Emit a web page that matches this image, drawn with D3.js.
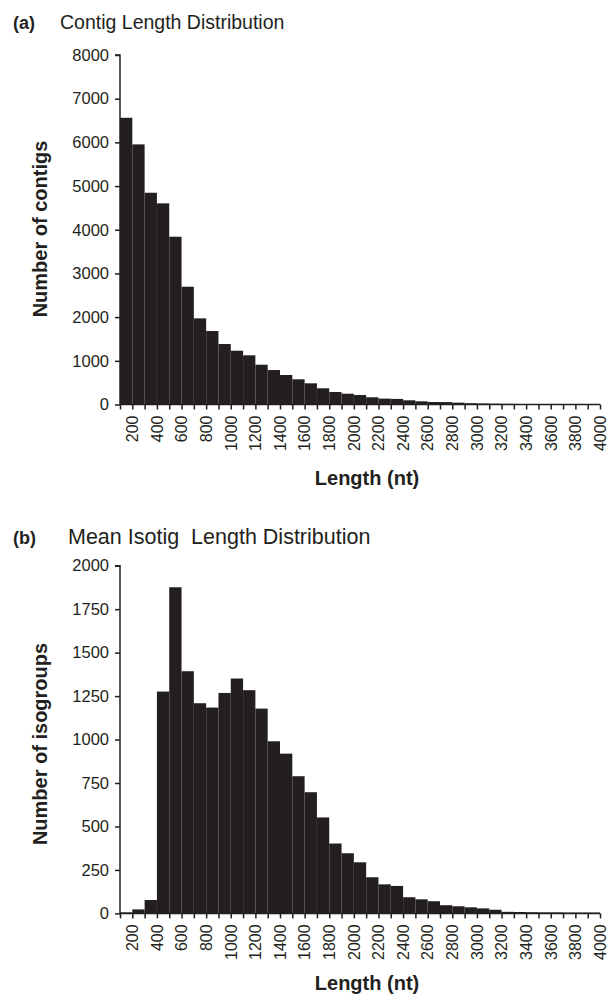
<!DOCTYPE html>
<html><head><meta charset="utf-8">
<script src="https://cdn.jsdelivr.net/npm/d3@7"></script>
<style>
body{margin:0;background:#fff;}
text{font-family:"Liberation Sans",Arial,sans-serif;fill:#231f20;}
</style></head>
<body><svg id="c" width="611" height="996"></svg>
<script>
// Bin lower edges (nt), bins of width 100
const binStarts = d3.range(100, 4000, 100);
// Panel (a): number of contigs per bin
const contigCounts = [6563, 5954, 4847, 4604, 3840, 2696, 1972, 1682, 1384, 1231, 1126, 911, 789, 675, 577, 485, 371, 286, 247, 217, 165, 135, 128, 96, 73, 57, 55, 42, 30, 24, 19, 15, 12, 10, 8, 7, 6, 5, 4];
// Panel (b): number of isogroups per bin
const isogroupCounts = [6, 23, 77, 1276, 1876, 1393, 1209, 1184, 1268, 1351, 1284, 1178, 990, 919, 789, 697, 552, 402, 346, 294, 208, 167, 158, 93, 81, 70, 47, 41, 35, 29, 21, 9, 8, 7, 6, 6, 5, 5, 5];
const xTickLabels = d3.range(200, 4001, 200);
const yTicksA = d3.range(0, 8001, 1000);
const yTicksB = d3.range(0, 2001, 250);

const svg = d3.select("#c");
const ink = "#231f20";

function panel(opts){
  const g = svg.append("g");
  const x = d3.scaleLinear().domain([100, 4000]).range([120, 600]);
  const y = d3.scaleLinear().domain([0, opts.yMax]).range([opts.y0, opts.yTop]);
  g.selectAll("rect.bar").data(opts.values).join("rect")
    .attr("x", (d,i)=>x(binStarts[i]))
    .attr("width", (d,i)=>x(binStarts[i]+100)-x(binStarts[i]))
    .attr("y", d=>y(d))
    .attr("height", d=>opts.y0 - y(d))
    .attr("fill", ink);
  const ya = d3.axisLeft(y).tickValues(opts.yTicks).tickSize(5).tickPadding(6).tickFormat(d3.format("d"));
  const yg = g.append("g").attr("transform","translate(120,0)").call(ya);
  yg.select(".domain").attr("stroke", ink).attr("stroke-width",1.5).attr("d", `M-5,${opts.yTop}H0V${opts.y0}`);
  yg.selectAll(".tick line").attr("stroke", ink).attr("stroke-width",1.5);
  yg.selectAll(".tick text").style("font-size","16.5px").attr("fill", ink);
  const xa = d3.axisBottom(x).tickValues(d3.range(100, 4001, 100)).tickSize(5).tickFormat("");
  const xg = g.append("g").attr("transform",`translate(0,${opts.y0})`).call(xa);
  xg.select(".domain").attr("stroke", ink).attr("stroke-width",1.5).attr("d", `M120,0H600`);
  xg.selectAll(".tick line").attr("stroke", ink).attr("stroke-width",1.5);
  xg.selectAll("text.xl").data(xTickLabels).join("text").attr("class","xl")
    .attr("transform", d=>`translate(${x(d)},11) rotate(-90)`)
    .attr("text-anchor","end").attr("dy","0.36em")
    .style("font-size","16px").text(d=>d);
  g.append("text").attr("x", 367).attr("y", opts.xTitleY).attr("text-anchor","middle")
    .style("font-size","20px").style("font-weight","bold").text("Length (nt)");
  g.append("text").attr("transform", `translate(47,${opts.yTitleY}) rotate(-90)`).attr("text-anchor","middle")
    .style("font-size","20px").style("font-weight","bold").text(opts.yTitle);
  g.append("text").attr("x", 13).attr("y", opts.titleY).style("font-size","18px").style("font-weight","bold").text(opts.letter);
  g.append("text").attr("x", opts.titleX).attr("y", opts.titleY).style("font-size", opts.titleSize).style("white-space","pre").text(opts.title);
}

panel({values: contigCounts, yMax: 8000, yTicks: yTicksA, y0: 404.5, yTop: 55,
  xTitleY: 485, yTitleY: 229, yTitle: "Number of contigs", titleY: 29, letter: "(a)",
  title: "Contig Length Distribution", titleX: 60, titleSize: "19.5px"});
panel({values: isogroupCounts, yMax: 2000, yTicks: yTicksB, y0: 913.4, yTop: 565.7,
  xTitleY: 990, yTitleY: 744, yTitle: "Number of isogroups", titleY: 544, letter: "(b)",
  title: "Mean Isotig  Length Distribution", titleX: 68, titleSize: "21.5px"});
</script></body></html>
